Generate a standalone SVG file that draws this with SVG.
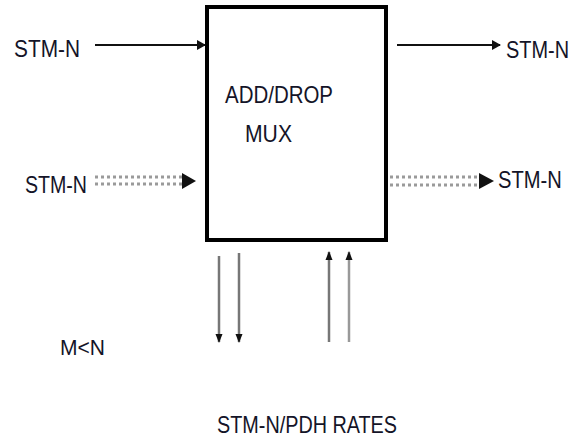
<svg xmlns="http://www.w3.org/2000/svg" width="577" height="439" viewBox="0 0 577 439">
<defs>
<style>
.t{font-family:"Liberation Sans",Arial,sans-serif;font-size:24px;fill:#141428}
.ln{stroke:#111;stroke-width:2;fill:none}
.dot{stroke:#9a9a9a;stroke-width:3;stroke-dasharray:3 3;fill:none}
.g1{stroke:#777;stroke-width:2.5;fill:none}
.g2{stroke:#999;stroke-width:2.5;fill:none}
</style>
<marker id="ah" markerWidth="9" markerHeight="10" refX="8" refY="5" orient="auto" markerUnits="userSpaceOnUse">
<path d="M0,0 L9,5 L0,10 z" fill="#111"/>
</marker>
<marker id="ahs" markerWidth="9" markerHeight="8" refX="8" refY="4" orient="auto" markerUnits="userSpaceOnUse">
<path d="M0,0.5 L9,4 L0,7.5 z" fill="#111"/>
</marker>
</defs>
<rect width="577" height="439" fill="#fff"/>
<g id="mux">
<rect x="207" y="7" width="179" height="233" fill="#fff" stroke="#000" stroke-width="4"/>
<text class="t" x="225" y="103" textLength="108" lengthAdjust="spacingAndGlyphs">ADD/DROP</text>
<text class="t" x="245" y="142" textLength="47" lengthAdjust="spacingAndGlyphs">MUX</text>
</g>
<g id="in-stm-top"><text class="t" x="14" y="57" textLength="66" lengthAdjust="spacingAndGlyphs">STM-N</text></g>
<g id="out-stm-top"><text class="t" transform="translate(506,58) scale(0.83,1)" x="0" y="0">STM-N</text></g>
<g id="in-stm-mid"><text class="t" x="25" y="193" textLength="62" lengthAdjust="spacingAndGlyphs">STM-N</text></g>
<g id="out-stm-mid"><text class="t" transform="translate(498,188) scale(0.84,1)" x="0" y="0">STM-N</text></g>
<g id="mn"><text class="t" x="60" y="355" textLength="45" lengthAdjust="spacingAndGlyphs" style="font-size:22px">M&lt;N</text></g>
<g id="rates"><text class="t" x="217" y="433" textLength="180" lengthAdjust="spacingAndGlyphs">STM-N/PDH RATES</text></g>
<g id="connectors">
<line class="ln" x1="95" y1="45" x2="205" y2="45" marker-end="url(#ah)"/>
<line class="ln" x1="397" y1="45" x2="500" y2="45" marker-end="url(#ah)"/>
<line class="dot" x1="95" y1="177" x2="182" y2="177"/>
<line class="dot" x1="95" y1="184" x2="182" y2="184"/>
<path d="M182,173 L196,181 L182,189 z" fill="#111"/>
<line class="dot" x1="390" y1="177" x2="478" y2="177"/>
<line class="dot" x1="390" y1="185" x2="478" y2="185"/>
<path d="M479,173 L494,181 L479,189 z" fill="#111"/>
<line class="g1" x1="219" y1="256" x2="219" y2="342" marker-end="url(#ahs)"/>
<line class="g1" x1="239" y1="253" x2="239" y2="342" marker-end="url(#ahs)"/>
<line class="g1" x1="329" y1="342" x2="329" y2="252" marker-end="url(#ahs)"/>
<line class="g2" x1="349" y1="342" x2="349" y2="252" marker-end="url(#ahs)"/>
</g>
</svg>
